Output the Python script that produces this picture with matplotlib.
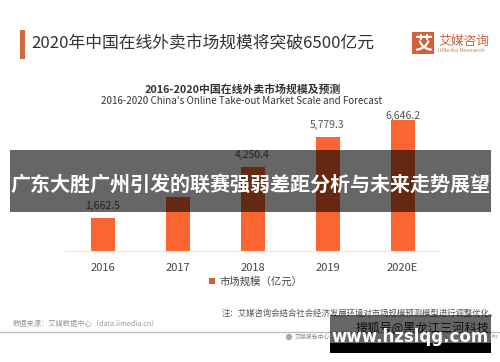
# -*- coding: utf-8 -*-
import matplotlib
matplotlib.use('Agg')
import matplotlib.pyplot as plt
import matplotlib.patches as mpatches

W = 500
H = 362

years = ['2016', '2017', '2018', '2019', '2020E']
values = [1662.5, 2741.0, 4250.4, 5779.3, 6646.2]
value_labels = ['1,662.5', '', '4,250.4', '5,779.3', '6,646.2']

plt.rcParams['font.family'] = ['Noto Sans CJK SC', 'DejaVu Sans']

BAR = '#fb6531'

fig = plt.figure(figsize=(W / 100, H / 100), dpi=100, facecolor='white')


def box(left, top, right, bottom):
    return [left / W, 1 - bottom / H, (right - left) / W, (bottom - top) / H]


ax = fig.add_axes(box(65, 100, 440, 251))
ax.bar(range(len(years)), values, width=0.32, color=BAR, zorder=2)
for i, label in enumerate(value_labels):
    # last label sits almost on its bar in the original
    pad = 3 if i == len(years) - 1 else 8.6
    ax.annotate(label, (i, values[i]), xytext=(0, pad), textcoords='offset points',
                ha='center', va='center', fontsize=7.5, color='#555555', zorder=3)
ax.set_xlim(-0.5, 4.5)
ax.set_ylim(0, 7665)
ax.set_xticks(range(len(years)))
ax.set_xticklabels(years, fontsize=8, color='#444444')
ax.tick_params(axis='x', length=0, pad=8.5)
ax.set_yticks([])
for side in ['top', 'right', 'left']:
    ax.spines[side].set_visible(False)
ax.spines['bottom'].set_color('#e8e8e8')
ax.patch.set_alpha(0)

# everything else is placed in pixel coordinates of the picture
over = fig.add_axes([0, 0, 1, 1])
over.set_xlim(0, W)
over.set_ylim(H, 0)
over.axis('off')
over.patch.set_alpha(0)


def rect(x0, y0, x1, y1, color, alpha=1.0, z=1):
    over.add_patch(mpatches.Rectangle((x0, y0), x1 - x0, y1 - y0, facecolor=color,
                                      edgecolor='none', alpha=alpha, zorder=z))


# header
rect(19.5, 30, 24.5, 59, '#d2693f')
over.text(31, 43.5, '2020年中国在线外卖市场规模将突破6500亿元', fontsize=12.1, color='#333333', va='center')
rect(412, 32, 434, 54, '#d2603a')
over.text(423, 42.5, '艾', fontsize=13, color='white', ha='center', va='center', weight='bold')
over.text(438, 41, '艾媒咨询', fontsize=9.2, color='#d2603a', va='center')
over.text(438, 51, 'iiMedia Research', fontsize=4.3, color='#d2805f', va='center')

over.text(243, 89, '2016-2020中国在线外卖市场规模及预测', fontsize=7.8, color='#333333',
          ha='center', va='center', weight='bold')
over.text(242, 101.5, "2016-2020 China's Online Take-out Market Scale and Forecast", fontsize=7.05,
          color='#333333', ha='center', va='center', weight='medium')

# legend
rect(209, 278, 215, 284, '#d2603a')
over.text(219, 281.5, '市场规模（亿元）', fontsize=7.5, color='#444444', va='center')

# footnotes
over.text(222, 313, '注：艾媒咨询会结合社会经济发展环境对市场规模预测模型进行调整优化。', fontsize=6.05,
          color='#555555', va='center')
over.text(13, 324, '数据来源：艾媒数据中心（data.iimedia.cn）', fontsize=5.2, color='#999999', va='center')
over.plot([0, 500], [331.5, 331.5], color='#bdbdbd', lw=1)
over.add_patch(mpatches.Circle((289, 337), 3.2, facecolor='#aaaaaa', edgecolor='none'))
over.text(295, 337, '艾媒报告中心', fontsize=4.2, color='#888888', va='center')
over.text(492, 337, 'Inc', fontsize=3.6, color='#888888', va='center')

# overlays
rect(10, 150, 491, 212, 'black', alpha=0.6, z=5)
over.text(250.5, 184.5, '广东大胜广州引发的联赛强弱差距分析与未来走势展望', fontsize=14.45, color='white',
          ha='center', va='center', weight='bold', zorder=6)
over.text(490, 328, '搜狐号@黑龙江三河科技', fontsize=8.8, color='#222222', ha='right', va='center', zorder=4)
rect(330, 315, 491, 343, 'black', alpha=0.6, z=5)
rect(330, 343, 491, 353, 'black', z=5)
over.text(410, 337, 'www.hzslqg.com', fontsize=12, color='white', ha='center', va='center',
          weight='bold', family='DejaVu Sans', zorder=6)

fig.savefig('out.png', dpi=100)
